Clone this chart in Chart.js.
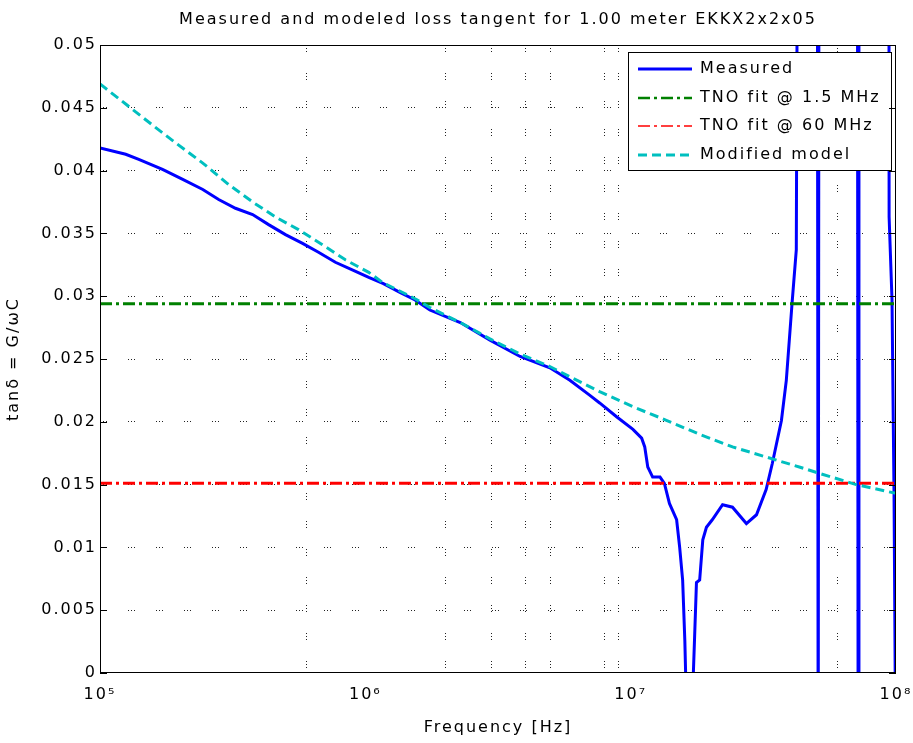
<!DOCTYPE html>
<html>
<head>
<meta charset="utf-8">
<script src="https://cdn.jsdelivr.net/npm/chart.js@4.4.1/dist/chart.umd.min.js"></script>
<style>
  html, body { margin: 0; padding: 0; background: #fff; }
</style>
</head>
<body>
<canvas id="graph" width="913" height="743"></canvas>
<script>
// Données (fréquence en Hz, tan delta)
const measuredFreq = [1e5, 1.25e5, 1.4e5, 1.72e5, 2.05e5, 2.44e5, 2.8e5, 3.24e5, 3.76e5, 4.32e5,
  5.0e5, 5.8e5, 6.66e5, 7.71e5, 8.93e5, 1.03e6, 1.17e6, 1.35e6, 1.54e6, 1.75e6,
  2.28e6, 2.95e6, 3.83e6, 4.96e6, 5.9e6, 7.02e6, 7.64e6, 8.85e6, 1.02e7, 1.10e7,
  1.13e7, 1.16e7, 1.21e7, 1.29e7, 1.34e7, 1.40e7, 1.49e7, 1.53e7, 1.57e7, 1.60e7,
  1.62e7, 1.67e7, 1.71e7, 1.74e7, 1.77e7, 1.82e7, 1.87e7, 1.93e7, 2.03e7, 2.22e7,
  2.42e7, 2.73e7, 2.98e7, 3.24e7, 3.42e7, 3.70e7, 3.86e7, 4.06e7, 4.21e7, 4.25e7,
  5.05e7, 5.09e7, 5.13e7, 7.15e7, 7.20e7, 7.25e7, 9.40e7, 9.42e7, 9.66e7, 9.83e7, 1e8];
const measuredVal = [0.0418, 0.0413, 0.0409, 0.0401, 0.0393, 0.0385, 0.0377, 0.0370, 0.0365, 0.0357,
  0.0349, 0.0342, 0.0335, 0.0327, 0.0321, 0.0315, 0.0310, 0.0303, 0.0297, 0.0289,
  0.0279, 0.0265, 0.0252, 0.0243, 0.0233, 0.0221, 0.0215, 0.0204, 0.0194, 0.0187,
  0.0180, 0.0164, 0.0156, 0.0156, 0.0151, 0.0135, 0.0122, 0.0100, 0.0074, 0.0026,
  -0.002, -0.004, -0.002, 0.0026, 0.0072, 0.0074, 0.0106, 0.0116, 0.0122, 0.0134,
  0.0132, 0.0119, 0.0126, 0.0146, 0.0167, 0.0201, 0.0233, 0.0295, 0.0337, 0.06,
  0.07, -0.01, 0.07, 0.07, -0.01, 0.07, 0.07, 0.0363, 0.0297, 0.0143, -0.01];

const modelFreq = [1e5, 1.25e5, 1.65e5, 1.93e5, 2.44e5, 3.05e5, 3.76e5, 4.59e5, 5.6e5, 6.89e5,
  8.41e5, 1.03e6, 1.16e6, 1.54e6, 1.75e6, 2.28e6, 2.95e6, 3.83e6, 4.96e6, 6.15e6,
  7.64e6, 1.02e7, 1.37e7, 1.82e7, 2.42e7, 3.24e7, 4.32e7, 5.14e7, 7.08e7, 1e8];
const modelVal = [0.0469, 0.0453, 0.0433, 0.0422, 0.0406, 0.0389, 0.0375, 0.0363, 0.0353, 0.0341,
  0.0329, 0.0319, 0.0311, 0.0298, 0.0291, 0.0279, 0.0266, 0.0254, 0.0244, 0.0234,
  0.0224, 0.0212, 0.0201, 0.0190, 0.0180, 0.0172, 0.0164, 0.0159, 0.0150, 0.0143];

const fitFreq = [1e5, 1e8];
const tnoLowVal = [0.0294, 0.0294];   // TNO fit @ 1.5 MHz
const tnoHighVal = [0.0151, 0.0151];  // TNO fit @ 60 MHz

// lignes verticales de grille telles qu'elles apparaissent
const gridFreq = [1e5, 6e5, 1e6, 2e6, 3e6, 4e6, 5e6, 8e6, 9e6, 1e7, 6e7, 1e8];
const exposants = { 5: '⁵', 6: '⁶', 7: '⁷', 8: '⁸' };

const toPoints = (xs, ys) => xs.map((x, i) => ({ x: x, y: ys[i] }));
const isDecade = v => { const e = Math.log10(v); return Math.abs(e - Math.round(e)) < 1e-6; };

Chart.defaults.font.family = "'DejaVu Sans', sans-serif";
Chart.defaults.font.size = 16;
Chart.defaults.color = '#000';

// texte un peu élargi comme sur l'image d'origine
const espacement = {
  id: 'espacement',
  beforeUpdate(chart) { chart.ctx.letterSpacing = '2px'; },
  beforeDraw(chart) { chart.ctx.letterSpacing = '2px'; }
};

// légende dans le coin, cadre des axes et petites graduations
const cadre = {
  id: 'cadre',
  afterDatasetsDraw(chart) {
    const { ctx, chartArea: a } = chart;
    const yScale = chart.scales.y;
    ctx.save();

    const x0 = a.right - 268, y0 = a.top + 7, w = 263, h = 118;
    ctx.fillStyle = '#fff';
    ctx.fillRect(x0, y0, w, h);
    ctx.strokeStyle = '#000';
    ctx.lineWidth = 1;
    ctx.setLineDash([]);
    ctx.strokeRect(x0 + 0.5, y0 + 0.5, w, h);
    chart.data.datasets.forEach((ds, i) => {
      const y = Math.round(y0 + 17 + i * 28.7);
      ctx.beginPath();
      ctx.setLineDash(ds.borderDash || []);
      ctx.lineWidth = ds.legendWidth || ds.borderWidth;
      ctx.strokeStyle = ds.borderColor;
      ctx.moveTo(x0 + 10, y);
      ctx.lineTo(x0 + 64, y);
      ctx.stroke();
      ctx.setLineDash([]);
      ctx.fillStyle = '#000';
      ctx.font = "16px 'DejaVu Sans'";
      ctx.textBaseline = 'middle';
      ctx.textAlign = 'left';
      ctx.fillText(ds.label, x0 + 72, y);
    });

    ctx.strokeStyle = '#000';
    ctx.lineWidth = 1;
    ctx.strokeRect(a.left + 0.5, a.top + 0.5, a.width - 1, a.height - 1);
    ctx.beginPath();
    yScale.ticks.forEach(t => {
      const y = Math.round(yScale.getPixelForValue(t.value)) + 0.5;
      ctx.moveTo(a.left, y); ctx.lineTo(a.left + 7, y);
      ctx.moveTo(a.right - 7, y); ctx.lineTo(a.right, y);
    });
    ctx.stroke();
    ctx.restore();
  }
};

const dash = [1, 2, 1, 2, 1, 21];

new Chart(document.getElementById('graph').getContext('2d'), {
  type: 'line',
  data: {
    datasets: [
      { label: 'Measured', data: toPoints(measuredFreq, measuredVal), borderColor: '#0000ff',
        borderWidth: 3, order: 4 },
      { label: 'TNO fit @ 1.5 MHz', data: toPoints(fitFreq, tnoLowVal), borderColor: '#008000',
        borderWidth: 3, borderDash: [12, 4, 3, 4], legendWidth: 2.5, order: 3 },
      { label: 'TNO fit @ 60 MHz', data: toPoints(fitFreq, tnoHighVal), borderColor: '#ff0000',
        borderWidth: 3, borderDash: [12, 4, 3, 4], legendWidth: 1.5, order: 2 },
      { label: 'Modified model', data: toPoints(modelFreq, modelVal), borderColor: '#00bfbf',
        borderWidth: 3, borderDash: [9, 5], order: 1 }
    ]
  },
  options: {
    responsive: false,
    animation: false,
    layout: { padding: { left: 0, right: 17, top: 0, bottom: 0 } },
    elements: { point: { radius: 0 }, line: { tension: 0 } },
    plugins: {
      legend: { display: false },
      tooltip: { enabled: false },
      title: {
        display: true,
        fullSize: false,
        text: 'Measured and modeled loss tangent for 1.00 meter EKKX2x2x05',
        font: { size: 16, weight: 'normal', lineHeight: 1.2 },
        padding: { top: 10, bottom: 15.8 }
      }
    },
    scales: {
      x: {
        type: 'logarithmic',
        min: 1e5,
        max: 1e8,
        afterBuildTicks: s => { s.ticks = gridFreq.map(v => ({ value: v })); },
        afterFit: s => { s.height = 70; s.paddingLeft = 0; s.paddingRight = 0; },
        border: { display: false, dash: dash },
        grid: {
          drawTicks: false,
          lineWidth: 1,
          color: c => (c.tick && isDecade(c.tick.value)) ? 'rgba(0,0,0,0)' : '#222'
        },
        ticks: {
          autoSkip: false,
          maxRotation: 0,
          padding: 12,
          callback: v => isDecade(v) ? '10' + exposants[Math.round(Math.log10(v))] : ''
        },
        title: { display: true, text: 'Frequency [Hz]', padding: { top: 0, bottom: 6 } }
      },
      y: {
        type: 'linear',
        min: 0,
        max: 0.05,
        afterFit: s => { s.width = 100; s.paddingTop = 0; s.paddingBottom = 0; },
        border: { display: false, dash: dash },
        grid: {
          drawTicks: false,
          lineWidth: 1,
          color: c => (c.tick && (c.tick.value < 1e-9 || c.tick.value > 0.0499)) ? 'rgba(0,0,0,0)' : '#222'
        },
        ticks: {
          stepSize: 0.005,
          padding: 3,
          callback: v => String(+v.toFixed(3))
        },
        title: { display: true, text: 'tanδ = G/ωC', padding: { top: 4, bottom: 0 } }
      }
    }
  },
  plugins: [espacement, cadre]
});
</script>
</body>
</html>
